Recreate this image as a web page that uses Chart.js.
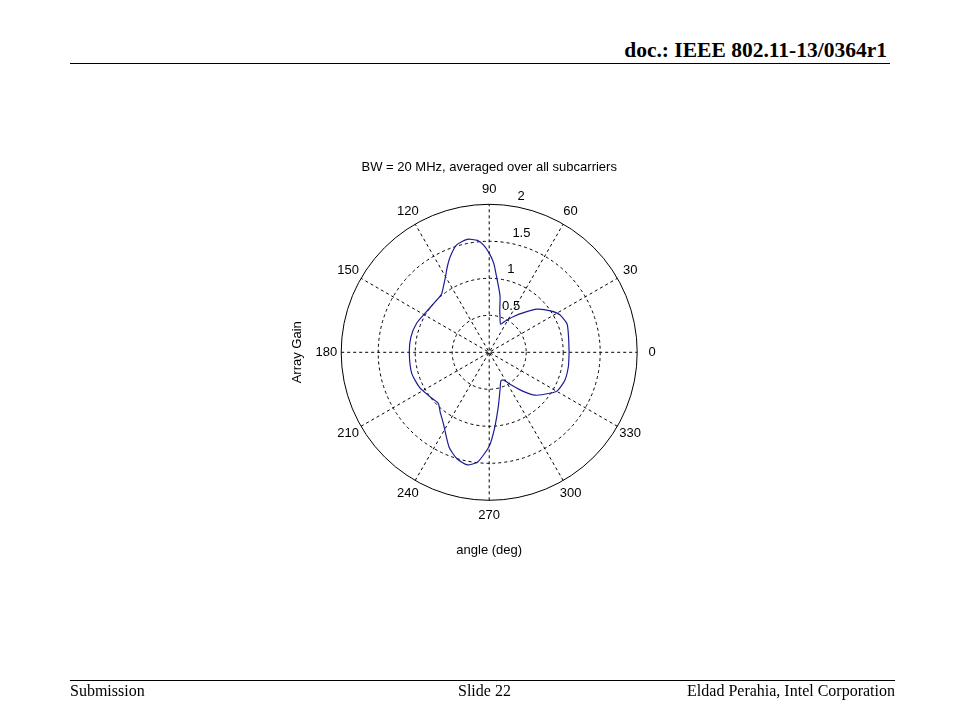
<!DOCTYPE html>
<html lang="en">
<head>
    <meta charset="UTF-8">
    <title>Array Gain polar plot</title>
    <script src="https://cdn.jsdelivr.net/npm/chart.js"></script>
    <style>
        body {
            margin: 0;
            padding: 0;
            background: #fff;
            width: 960px;
            height: 720px;
            position: relative;
            overflow: hidden;
        }

        #chartCanvas {
            position: absolute;
            left: 0;
            top: 0;
        }

        .rule {
            position: absolute;
            left: 70px;
            height: 0;
            border-top: 1.5px solid #000;
        }

        .slide-text {
            position: absolute;
            font-family: "Liberation Serif", "Times New Roman", serif;
            white-space: nowrap;
            color: #000;
        }

        #docId {
            right: 73px;
            top: 40px;
            font-size: 21.5px;
            line-height: 21.5px;
            font-weight: bold;
        }

        .footer {
            top: 683px;
            font-size: 16px;
            line-height: 16px;
        }
    </style>
</head>
<body>
    <div class="slide-text" id="docId">doc.: IEEE 802.11-13/0364r1</div>
    <div class="rule" style="top: 63px; width: 820px;"></div>

    <canvas id="chartCanvas" width="960" height="720"></canvas>

    <div class="rule" style="top: 680px; width: 825px;"></div>
    <div class="slide-text footer" style="left: 70px;">Submission</div>
    <div class="slide-text footer" style="left: 458px;">Slide 22</div>
    <div class="slide-text footer" style="right: 65px;">Eldad Perahia, Intel Corporation</div>

    <script>
        // angle (deg) and array gain
        const angleDeg = [0, 10, 20, 28, 34, 42, 49, 56, 63, 68, 73, 76, 79, 82, 84.5, 87, 90, 93, 96, 101,
            107, 112, 116, 120, 125, 129, 135, 147, 158, 169, 180, 195, 207, 217, 225, 231, 237, 247, 253,
            259, 264, 270, 274, 279.5, 286, 292.5, 297, 304.5, 311, 317, 326, 331, 340, 350, 360];
        const arrayGain = [1.08, 1.09, 1.12, 1.08, 1.0, 0.87, 0.71, 0.58, 0.47, 0.41, 0.50, 0.59, 0.77, 0.90, 1.03, 1.20, 1.34, 1.45, 1.52, 1.555,
            1.515, 1.40, 1.29, 1.18, 1.08, 1.02, 1.0, 1.01, 1.056, 1.078, 1.08, 1.085, 1.054, 1.0, 0.974, 1.05, 1.14, 1.39, 1.50,
            1.55, 1.49, 1.27, 1.03, 0.745, 0.53, 0.415, 0.42, 0.54, 0.70, 0.85, 0.99, 1.06, 1.09, 1.087, 1.08];

        const ringValues = [0.5, 1, 1.5, 2];
        const spokeAngles = [0, 30, 60, 90, 120, 150];
        const angleLabels = ['0', '30', '60', '90', '120', '150', '180', '210', '240', '270', '300', '330'];
        const rMax = 2;

        const chartTitle = 'BW = 20 MHz, averaged over all subcarriers';
        const xLabel = 'angle (deg)';
        const yLabel = 'Array Gain';

        const axisFont = '13px "Liberation Sans", Arial, sans-serif';
        const curveColor = '#1c1c96';

        const points = angleDeg.map((a, i) => {
            const t = a * Math.PI / 180;
            return { x: arrayGain[i] * Math.cos(t), y: arrayGain[i] * Math.sin(t) };
        });

        // draws the polar grid under the curve and the labels on top
        const polarGrid = {
            id: 'polarGrid',
            beforeDatasetsDraw(chart) {
                const ctx = chart.ctx;
                const xs = chart.scales.x;
                const ys = chart.scales.y;
                const cx = xs.getPixelForValue(0);
                const cy = ys.getPixelForValue(0);
                const px = xs.getPixelForValue(rMax) - cx;

                ctx.save();
                ctx.fillStyle = '#fff';
                ctx.beginPath();
                ctx.arc(cx, cy, px, 0, Math.PI * 2);
                ctx.fill();

                ctx.strokeStyle = '#000';
                ctx.lineWidth = 1;
                ctx.setLineDash([3, 3]);
                spokeAngles.forEach(a => {
                    const t = a * Math.PI / 180;
                    ctx.beginPath();
                    ctx.moveTo(cx - px * Math.cos(t), cy + px * Math.sin(t));
                    ctx.lineTo(cx + px * Math.cos(t), cy - px * Math.sin(t));
                    ctx.stroke();
                });
                ringValues.forEach(r => {
                    const rp = xs.getPixelForValue(r) - cx;
                    ctx.setLineDash(r === rMax ? [] : [3, 3]);
                    ctx.beginPath();
                    ctx.arc(cx, cy, rp, 0, Math.PI * 2);
                    ctx.stroke();
                });
                ctx.restore();
            },
            afterDraw(chart) {
                const ctx = chart.ctx;
                const xs = chart.scales.x;
                const ys = chart.scales.y;
                const cx = xs.getPixelForValue(0);
                const cy = ys.getPixelForValue(0);
                const px = xs.getPixelForValue(rMax) - cx;

                ctx.save();
                ctx.fillStyle = '#000';
                ctx.font = axisFont;

                // ring labels along the 82 degree line
                const t82 = 82 * Math.PI / 180;
                ctx.textAlign = 'left';
                ctx.textBaseline = 'bottom';
                ringValues.forEach(r => {
                    const rp = xs.getPixelForValue(r + rMax / 40) - cx;
                    ctx.fillText('  ' + r, cx + rp * Math.cos(t82), cy - rp * Math.sin(t82) + 1);
                });

                ctx.textAlign = 'center';
                ctx.textBaseline = 'middle';
                angleLabels.forEach((lbl, i) => {
                    const t = i * 30 * Math.PI / 180;
                    ctx.fillText(lbl, cx + 1.1 * px * Math.cos(t), cy - 1.1 * px * Math.sin(t));
                });

                ctx.fillText(chartTitle, cx, 167);
                ctx.fillText(xLabel, cx, 550);

                ctx.translate(297, cy);
                ctx.rotate(-Math.PI / 2);
                ctx.fillText(yLabel, 0, 0);
                ctx.restore();
            }
        };

        new Chart(document.getElementById('chartCanvas'), {
            type: 'scatter',
            data: {
                datasets: [{
                    label: yLabel,
                    data: points,
                    showLine: true,
                    borderColor: curveColor,
                    backgroundColor: curveColor,
                    borderWidth: 1.2,
                    pointRadius: 0,
                    tension: 0.2
                }]
            },
            options: {
                responsive: false,
                animation: false,
                layout: {
                    padding: { left: 341.2, right: 322.8, top: 204.3, bottom: 219.7 }
                },
                plugins: {
                    legend: { display: false },
                    tooltip: { enabled: false }
                },
                scales: {
                    x: { type: 'linear', min: -rMax, max: rMax, display: false },
                    y: { type: 'linear', min: -rMax, max: rMax, display: false }
                }
            },
            plugins: [polarGrid]
        });
    </script>
</body>
</html>
